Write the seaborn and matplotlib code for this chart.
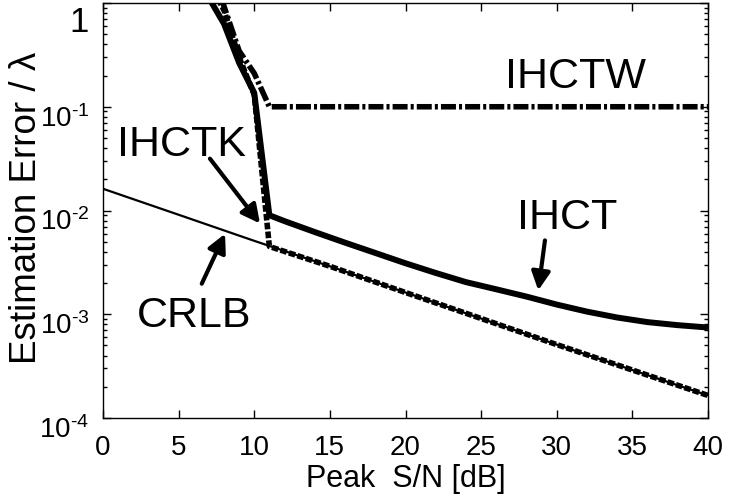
import matplotlib
matplotlib.use("Agg")
import matplotlib.pyplot as plt
import matplotlib.transforms as mtransforms
from matplotlib.ticker import FixedLocator, LogLocator, NullFormatter, NullLocator
import seaborn as sns

# Cramer-Rao lower bound
snr_crlb = [0, 5, 10, 15, 20, 25, 30, 35, 40]
err_crlb = [0.0162, 0.0091, 0.0051, 0.0029, 0.00162, 0.00091, 0.00051, 0.00029, 0.000165]

# IHCT estimator
snr_ihct = [7, 8, 9, 10, 11, 12, 14, 16, 18, 20, 22, 24, 26, 28, 30, 32, 34, 36, 38, 40]
err_ihct = [1.12, 0.63, 0.265, 0.136, 0.0090, 0.0079, 0.0062, 0.0049, 0.0039, 0.0031,
            0.0025, 0.00204, 0.00174, 0.00148, 0.00124, 0.00106, 0.00093, 0.00084,
            0.000785, 0.000745]

# IHCTW estimator
snr_ihctw = [7, 8, 9, 10, 11, 20, 30, 40]
err_ihctw = [3.0, 0.93, 0.345, 0.21, 0.1, 0.1, 0.1, 0.1]

# IHCTK estimator
snr_ihctk = [7, 8, 9, 10, 11, 15, 20, 25, 30, 35, 40]
err_ihctk = [1.6, 0.85, 0.3, 0.13, 0.0045, 0.0029, 0.00162, 0.00091, 0.00051, 0.00029, 0.000165]

xticks = [0, 5, 10, 15, 20, 25, 30, 35, 40]
yticks = [1e-4, 1e-3, 1e-2, 1e-1, 1]
ytick_labels = [r"$\mathregular{10^{\text{-}4}}$", r"$\mathregular{10^{\text{-}3}}$",
                r"$\mathregular{10^{\text{-}2}}$", r"$\mathregular{10^{\text{-}1}}$", "1"]

sns.set_theme(style="ticks")
plt.rcParams["font.family"] = ["Liberation Sans", "DejaVu Sans"]
plt.rcParams["mathtext.fontset"] = "custom"
plt.rcParams["mathtext.rm"] = "Liberation Sans"
plt.rcParams["mathtext.it"] = "Liberation Sans:italic"
plt.rcParams["mathtext.bf"] = "Liberation Sans:bold"

fig = plt.figure(figsize=(7.31, 5.01), dpi=100)
fig.patch.set_facecolor("white")
ax = fig.add_axes([103 / 731, 1 - 418 / 501, 605 / 731, 415 / 501])
ax.set_facecolor("white")
ax.set_yscale("log")

sns.lineplot(x=snr_crlb, y=err_crlb, ax=ax, color="black", lw=1.6,
             estimator=None, sort=False)
sns.lineplot(x=snr_ihct, y=err_ihct, ax=ax, color="black", lw=4.3,
             estimator=None, sort=False)
sns.lineplot(x=snr_ihctw, y=err_ihctw, ax=ax, color="black", lw=4.0,
             estimator=None, sort=False)
ax.lines[-1].set_dashes([2.7, 0.55, 0.55, 0.55])
sns.lineplot(x=snr_ihctk, y=err_ihctk, ax=ax, color="black", lw=4.0,
             estimator=None, sort=False)
ax.lines[-1].set_dashes([1.2, 0.4])
for ln in ax.lines:
    ln.set_solid_capstyle("butt")
    ln.set_dash_capstyle("butt")

ax.set_xlim(0, 40)
ax.set_ylim(1e-4, 1)
ax.xaxis.set_major_locator(FixedLocator(xticks))
ax.xaxis.set_minor_locator(NullLocator())
ax.set_xticklabels([str(v) for v in xticks])
ax.yaxis.set_major_locator(FixedLocator(yticks))
ax.yaxis.set_minor_locator(LogLocator(base=10, subs=range(2, 10)))
ax.yaxis.set_minor_formatter(NullFormatter())
ax.set_yticklabels(ytick_labels)

ax.tick_params(which="both", direction="in", top=True, right=True,
               color="black", width=1)
ax.tick_params(which="major", length=6)
ax.tick_params(which="minor", length=3)
ax.tick_params(axis="x", which="major", labelsize=20, pad=12, labelcolor="black")
ax.tick_params(axis="y", which="major", labelsize=20, pad=10, labelcolor="black")
for sp in ax.spines.values():
    sp.set_color("black")
    sp.set_linewidth(1.0)

# y tick labels sit a little below their ticks
labels = ax.get_yticklabels()
for lbl in labels[:-1]:
    lbl.set_transform(lbl.get_transform() +
                      mtransforms.ScaledTranslation(0, -9 / 100, fig.dpi_scale_trans))
labels[-1].set_fontsize(25)
labels[-1].set_transform(labels[-1].get_transform() +
                         mtransforms.ScaledTranslation(0, -16 / 100, fig.dpi_scale_trans))

ax.set_xlabel("Peak  S/N [dB]", fontsize=22, color="black")
ax.xaxis.set_label_coords(0.5, (418 - 464) / 415)
ax.set_ylabel("Estimation Error / λ", fontsize=26.5, color="black")
ax.yaxis.set_label_coords((26 - 103) / 605, 0.507)
ax.yaxis.label.set_verticalalignment("center")

# curve labels
ax.text(26.6, 0.152, "IHCTW", fontsize=31, ha="left", va="baseline", color="black")
ax.text(0.9, 0.0338, "IHCTK", fontsize=31, ha="left", va="baseline", color="black")
ax.text(2.23, 7.55e-4, "CRLB", fontsize=31, ha="left", va="baseline", color="black")
ax.text(27.35, 0.00667, "IHCT", fontsize=31, ha="left", va="baseline", color="black")

arrow = dict(arrowstyle="-|>,head_length=0.55,head_width=0.28", lw=3.0,
             color="black", mutation_scale=20, shrinkA=0, shrinkB=0)
ax.annotate("", xy=(10.38, 0.0075), xytext=(7.07, 0.0316), arrowprops=arrow)
ax.annotate("", xy=(8.07, 0.00597), xytext=(6.53, 0.00197), arrowprops=arrow)
ax.annotate("", xy=(28.78, 0.0017), xytext=(29.22, 0.00515), arrowprops=arrow)

fig.savefig("out.png", dpi=100)
